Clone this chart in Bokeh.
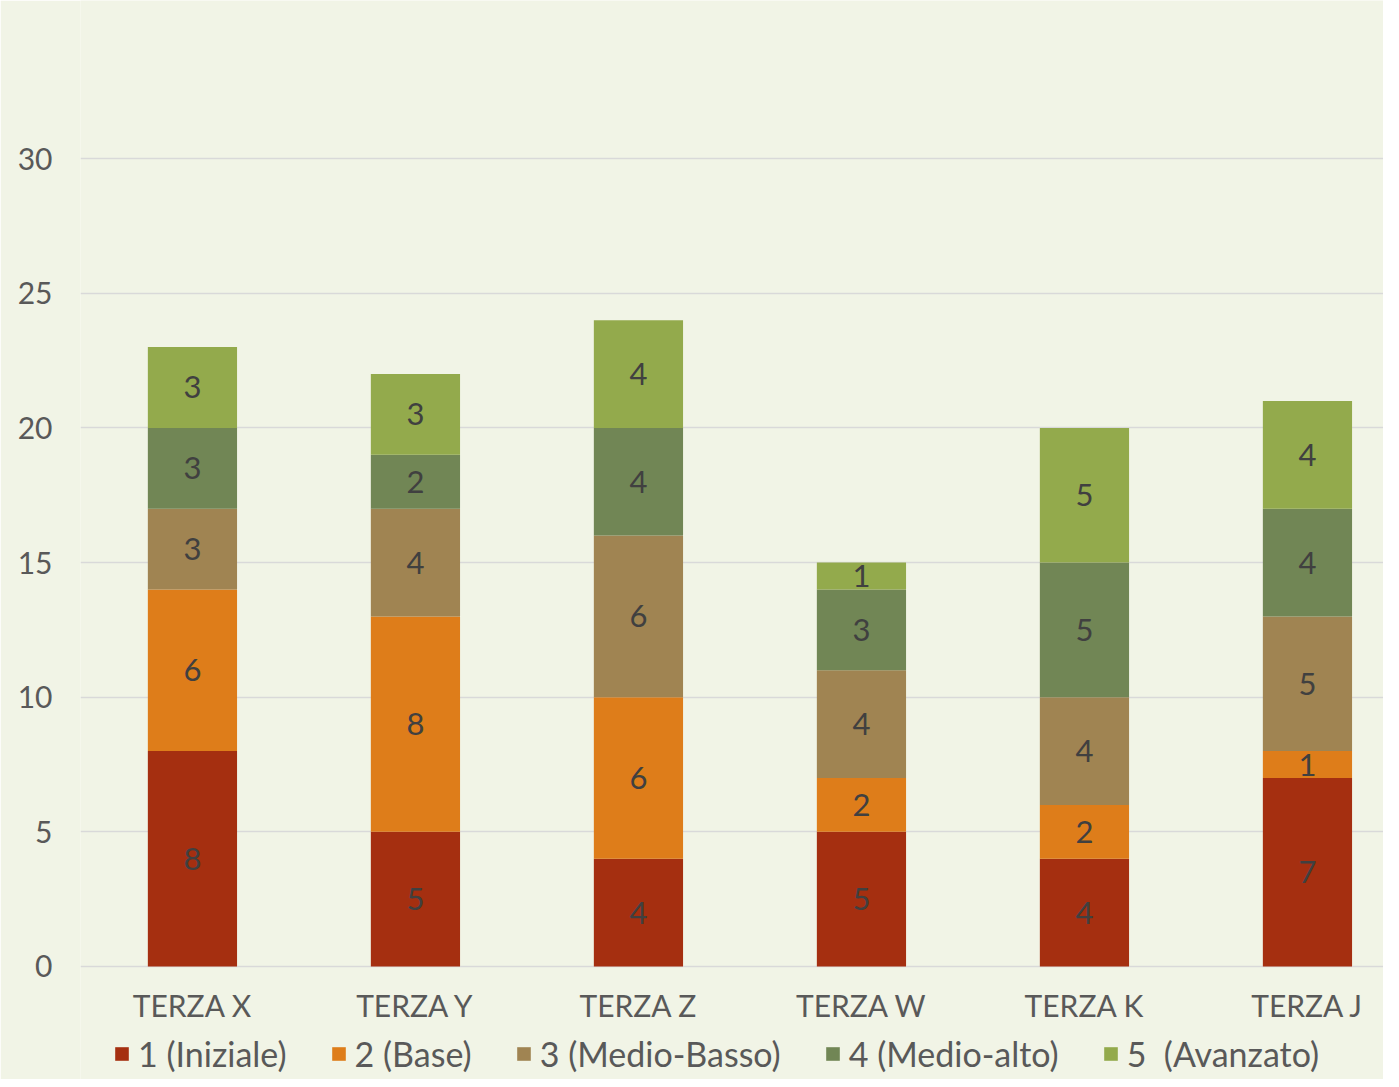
import numpy as np
from bokeh.plotting import figure
from bokeh.models import ColumnDataSource, FixedTicker, Legend, LegendItem, Range1d
from bokeh.core.properties import value
from bokeh.embed import file_html
from bokeh.resources import INLINE

categories = ["TERZA X", "TERZA Y", "TERZA Z", "TERZA W", "TERZA K", "TERZA J"]
series_names = ["1 (Iniziale)", "2 (Base)", "3 (Medio-Basso)", "4 (Medio-alto)", "5  (Avanzato)"]
livello_1 = [8, 5, 4, 5, 4, 7]
livello_2 = [6, 8, 6, 2, 2, 1]
livello_3 = [3, 4, 6, 4, 4, 5]
livello_4 = [3, 2, 4, 3, 5, 4]
livello_5 = [3, 3, 4, 1, 5, 4]
y_ticks = [0, 5, 10, 15, 20, 25, 30]

colors = ["#A52F10", "#DE7D1A", "#A08452", "#718655", "#93AA4C"]
FONT = "Lato"
TXT = "#595959"

series = [livello_1, livello_2, livello_3, livello_4, livello_5]
keys = ["s1", "s2", "s3", "s4", "s5"]
xs = list(range(len(categories)))
data = {"x": xs}
for k, s in zip(keys, series):
    data[k] = s
src = ColumnDataSource(data)

bg = "#F1F4E6"
p = figure(width=1383, height=1079, output_backend="svg", toolbar_location=None,
           x_range=Range1d(-0.502, 5.341), y_range=Range1d(-4.196, 35.87),
           min_border_left=80, min_border_right=0, min_border_top=0, min_border_bottom=0,
           background_fill_color=bg, border_fill_color=bg, outline_line_color=None)

renderers = p.vbar_stack(keys, x="x", width=0.40, source=src, color=colors, line_color=None)

# data labels
arr = np.array(series, dtype=float)
tops = np.cumsum(arr, axis=0)
mids = tops - arr / 2.0
lab_x, lab_y, lab_t = [], [], []
for i in range(arr.shape[0]):
    for j in range(arr.shape[1]):
        lab_x.append(xs[j]); lab_y.append(mids[i, j]); lab_t.append(str(int(arr[i, j])))
p.text(x=lab_x, y=lab_y, text=lab_t, text_align="center", text_baseline="middle",
       text_font=value(FONT), text_font_size="31px", text_color="#404040")

# axes
p.xaxis.ticker = FixedTicker(ticks=xs)
p.xaxis.major_label_overrides = {i: c for i, c in enumerate(categories)}
p.xaxis.fixed_location = 0
p.yaxis.ticker = FixedTicker(ticks=y_ticks)
for ax in (p.xaxis, p.yaxis):
    ax.axis_line_color = None
    ax.major_tick_line_color = None
    ax.minor_tick_line_color = None
    ax.major_label_text_font = FONT
    ax.major_label_text_color = TXT
    ax.major_label_text_font_size = "30px"
p.xaxis.major_label_standoff = 15
p.yaxis.major_label_standoff = 22
p.xgrid.grid_line_color = None
p.ygrid.ticker = FixedTicker(ticks=y_ticks)
p.ygrid.grid_line_color = "#D9D9D9"
p.ygrid.grid_line_width = 1.5

legend = Legend(items=[LegendItem(label=n, renderers=[r]) for n, r in zip(series_names, renderers)],
                orientation="horizontal", location=(33, 5),
                label_text_font=FONT, label_text_font_size="34px", label_text_color=TXT,
                glyph_width=17, glyph_height=17, spacing=43, label_standoff=8,
                background_fill_alpha=0, border_line_alpha=0, padding=0, margin=0)
p.add_layout(legend, "center")

open("out.html", "w").write(file_html(p, INLINE))
